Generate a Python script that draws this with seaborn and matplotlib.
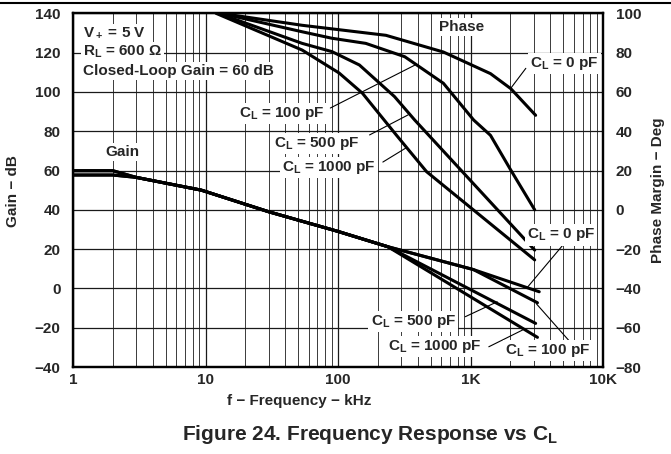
import matplotlib
matplotlib.use('Agg')
import matplotlib.pyplot as plt
import seaborn as sns
from matplotlib.lines import Line2D
from matplotlib.ticker import FixedLocator, FixedFormatter, NullFormatter

sns.set_theme(style='white')
plt.rcParams['font.family'] = ['Liberation Sans', 'DejaVu Sans']
plt.rcParams['font.weight'] = 'bold'
plt.rcParams['mathtext.fontset'] = 'custom'
plt.rcParams['mathtext.rm'] = 'Liberation Sans:bold'
plt.rcParams['mathtext.it'] = 'Liberation Sans:bold'
plt.rcParams['mathtext.bf'] = 'Liberation Sans:bold'
plt.rcParams['mathtext.default'] = 'rm'

# gain, frequency in kHz -> dB
freq_gain_0pf = [1, 2, 3, 9.3, 30, 100, 238, 1050, 3300]
gain_0pf = [59.9, 59.9, 56.5, 50, 39, 29, 21.2, 9.6, -1.7]
freq_gain_100pf = [1, 2, 3, 9.3, 30, 100, 238, 1050, 3200]
gain_100pf = [59.9, 59.9, 56.5, 50, 39, 29, 21.2, 9.6, -7.3]
freq_gain_500pf = [1, 2, 3, 9.3, 30, 100, 238, 3100]
gain_500pf = [57.7, 57.7, 56.5, 50, 39, 29, 21.2, -17.8]
freq_gain_1000pf = [1, 2, 3, 9.3, 30, 100, 238, 3200]
gain_1000pf = [57.7, 57.7, 56.5, 50, 39, 29, 21.2, -24.9]

# phase margin, frequency in kHz -> deg
freq_phase_0pf = [13, 53.6, 230, 624, 1415, 2010, 3100]
phase_0pf = [100, 93.9, 88.8, 80.3, 69.3, 61.7, 48.1]
freq_phase_100pf = [13, 53.6, 90, 162, 319, 624, 1056, 1415, 2010, 3050]
phase_100pf = [100, 90.6, 87.3, 84.7, 77.9, 64.4, 45.7, 37.9, 20.3, 0]
freq_phase_500pf = [12.5, 53.6, 90, 145, 267, 379, 3050]
phase_500pf = [100, 84.7, 80.5, 73.7, 57.6, 45.7, -20.5]
freq_phase_1000pf = [12, 53.6, 102, 153, 275, 466, 3050]
phase_1000pf = [100, 81.3, 69.6, 59.3, 38.1, 19.4, -25.5]

x_ticks = [1, 10, 100, 1000, 10000]
x_tick_labels = ['1', '10', '100', '1K', '10K']
gain_ticks = list(range(-40, 141, 20))
phase_ticks = list(range(-80, 101, 20))

fig = plt.figure(figsize=(6.71, 4.54), dpi=100)
ax = fig.add_axes([0.1088, 0.1916, 0.7899, 0.7791])
ax.set_xscale('log')
ax.set_xlim(1, 10000)
ax.set_ylim(-40, 140)

for f, g in [(freq_gain_0pf, gain_0pf), (freq_gain_100pf, gain_100pf),
             (freq_gain_500pf, gain_500pf), (freq_gain_1000pf, gain_1000pf)]:
    sns.lineplot(x=f, y=g, ax=ax, color='black', linewidth=2.2, sort=False, estimator=None, zorder=3)

ax.xaxis.set_major_locator(FixedLocator(x_ticks))
ax.xaxis.set_major_formatter(FixedFormatter(x_tick_labels))
ax.xaxis.set_minor_formatter(NullFormatter())
ax.yaxis.set_major_locator(FixedLocator(gain_ticks))
ax.grid(True, which='major', color='#1a1a1a', linewidth=0.9)
ax.grid(True, which='minor', axis='x', color='#3a3a3a', linewidth=0.7)
ax.tick_params(which='both', length=0, labelsize=11)
ax.tick_params(axis='y', pad=9)
ax.tick_params(axis='x', pad=4)

ax2 = ax.twinx()
ax2.set_ylim(-80, 100)
for f, p in [(freq_phase_0pf, phase_0pf), (freq_phase_100pf, phase_100pf),
             (freq_phase_500pf, phase_500pf), (freq_phase_1000pf, phase_1000pf)]:
    sns.lineplot(x=f, y=p, ax=ax2, color='black', linewidth=2.2, sort=False, estimator=None, zorder=3)
ax2.set_xlim(1, 10000)
ax2.yaxis.set_major_locator(FixedLocator(phase_ticks))
ax2.grid(False)
ax2.tick_params(which='both', length=0, labelsize=11, pad=9)

for a in (ax, ax2):
    for s in a.spines.values():
        s.set_color('black')
        s.set_linewidth(1.6)
    for lbl in a.get_xticklabels() + a.get_yticklabels():
        lbl.set_fontweight('bold')

box = dict(facecolor='white', edgecolor='none', pad=1.5)
fs = 11


def label(x, y, s, ha='center'):
    ax2.text(x, y, s, ha=ha, va='center', fontsize=fs, fontweight='bold', bbox=box, zorder=5)


def leader(x0, y0, x1, y1):
    ax2.plot([x0, x1], [y0, y1], color='black', linewidth=0.8, zorder=4)


label(1.19, 90, r'V$_+$ = 5 V', ha='left')
label(1.19, 80.2, r'R$_L$ = 600 Ω', ha='left')
label(1.19, 70.6, 'Closed-Loop Gain = 60 dB', ha='left')
label(2.35, 29.6, 'Gain')
label(855, 93.2, 'Phase')

# phase labels
leader(2614, 72.0, 2010, 61.8)
label(5117, 74.6, r'C$_L$ = 0 pF')
leader(87.5, 51.8, 382, 73.7)
label(37.7, 49.1, r'C$_L$ = 100 pF')
leader(173, 38.1, 338, 48.3)
label(68.5, 33.8, r'C$_L$ = 500 pF')
leader(218, 24.3, 326, 31.5)
label(86, 21.6, r'C$_L$ = 1000 pF')

# gain labels
leader(5117, -17.0, 2690, -39.4)
label(4831, -12.8, r'C$_L$ = 0 pF')
leader(913, -54.4, 1589, -46.8)
label(369, -57, r'C$_L$ = 500 pF')
leader(1374, -69.7, 2465, -61.2)
label(540, -69.7, r'C$_L$ = 1000 pF')
leader(5918, -68.8, 3148, -47.9)
label(3820, -71.7, r'C$_L$ = 100 pF')

fig.text(0.019, 0.58, 'Gain − dB', rotation=90, ha='center', va='center', fontsize=fs, fontweight='bold')
fig.text(0.98, 0.58, 'Phase Margin − Deg', rotation=90, ha='center', va='center', fontsize=fs, fontweight='bold')
fig.text(0.4456, 0.117, 'f − Frequency − kHz', ha='center', va='center', fontsize=fs, fontweight='bold')
fig.text(0.551, 0.044, r'Figure 24. Frequency Response vs C$_L$', ha='center', va='center', fontsize=15, fontweight='bold')

fig.add_artist(Line2D([0, 1], [0.994, 0.994], color='black', linewidth=1.5))

fig.savefig('out.png', dpi=100)
